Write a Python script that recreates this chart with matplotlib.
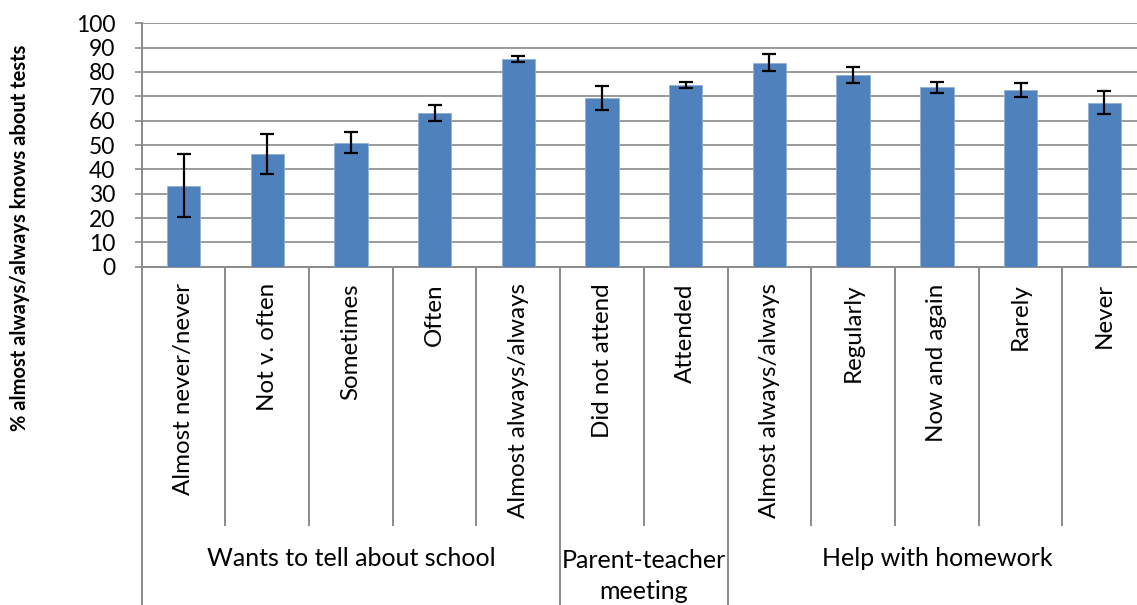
import matplotlib
matplotlib.use('Agg')
import matplotlib.pyplot as plt
import numpy as np

# data
categories = ['Almost never/never', 'Not v. often', 'Sometimes', 'Often', 'Almost always/always',
              'Did not attend', 'Attended',
              'Almost always/always', 'Regularly', 'Now and again', 'Rarely', 'Never']
values = [33.3, 46.3, 51.0, 63.1, 85.2, 69.3, 74.8, 83.8, 78.6, 73.7, 72.6, 67.4]
errors = [12.8, 8.2, 4.3, 3.3, 1.3, 4.9, 1.2, 3.6, 3.3, 2.3, 2.7, 4.6]
groups = ['Wants to tell about school', 'Parent-teacher\nmeeting', 'Help with homework']
group_sizes = [5, 2, 5]
yticks = list(range(0, 101, 10))

plt.rcParams['font.family'] = ['Lato', 'DejaVu Sans']

W, H = 1137, 605
fig = plt.figure(figsize=(W / 100, H / 100), dpi=100)
# plot area runs past the right edge like the original (cropped)
ax = fig.add_axes([141.7 / W, 338.3 / H, 1004.4 / W, 243.4 / H])

x = np.arange(len(categories))
ax.bar(x, values, width=0.4, color='#4F81BD', edgecolor='#8fb0d8', linewidth=0.6, zorder=3)
ax.errorbar(x, values, yerr=errors, fmt='none', ecolor='black', elinewidth=1.6,
            capsize=4.8, capthick=1.6, zorder=4)

ax.set_xlim(-0.5, len(categories) - 0.5)
ax.set_ylim(0, 100)
ax.set_yticks(yticks)
ax.set_yticklabels([str(t) for t in yticks], fontsize=16.5)
ax.yaxis.grid(True, color='#8a8a8a', linewidth=1.2, zorder=0)
ax.tick_params(axis='y', length=5, width=1.2, color='#8a8a8a', pad=14)
ax.set_xticks(x)
ax.set_xticklabels(categories, rotation=90, fontsize=17.4, va='top', ha='center')
ax.tick_params(axis='x', length=0, pad=12)
for s in ['top', 'right']:
    ax.spines[s].set_visible(False)
for s in ['left', 'bottom']:
    ax.spines[s].set_color('#8a8a8a')
    ax.spines[s].set_linewidth(1.4)

# separators below the axis: short between categories, long between groups
trans = ax.get_xaxis_transform()
group_edges = np.cumsum([0] + group_sizes) - 0.5
short_y = (H - 525 - 338.3) / 243.4
long_y = (H - 610 - 338.3) / 243.4
for b in np.arange(len(categories) + 1) - 0.5:
    bottom = long_y if b in group_edges else short_y
    ax.plot([b, b], [0, bottom], color='#8a8a8a', linewidth=1.4, transform=trans, clip_on=False)

for i, g in enumerate(groups):
    cx = (group_edges[i] + group_edges[i + 1]) / 2
    cy = 576 if '\n' in g else 558
    ax.text(cx, (H - cy - 338.3) / 243.4, g, transform=trans, ha='center', va='center',
            fontsize=18, linespacing=1.4)

fig.text(20 / W, (H - 238) / H, '% almost always/always knows about tests', rotation=90,
         ha='center', va='center', fontsize=14.5, fontweight='bold')

fig.savefig('out.png', dpi=100)
